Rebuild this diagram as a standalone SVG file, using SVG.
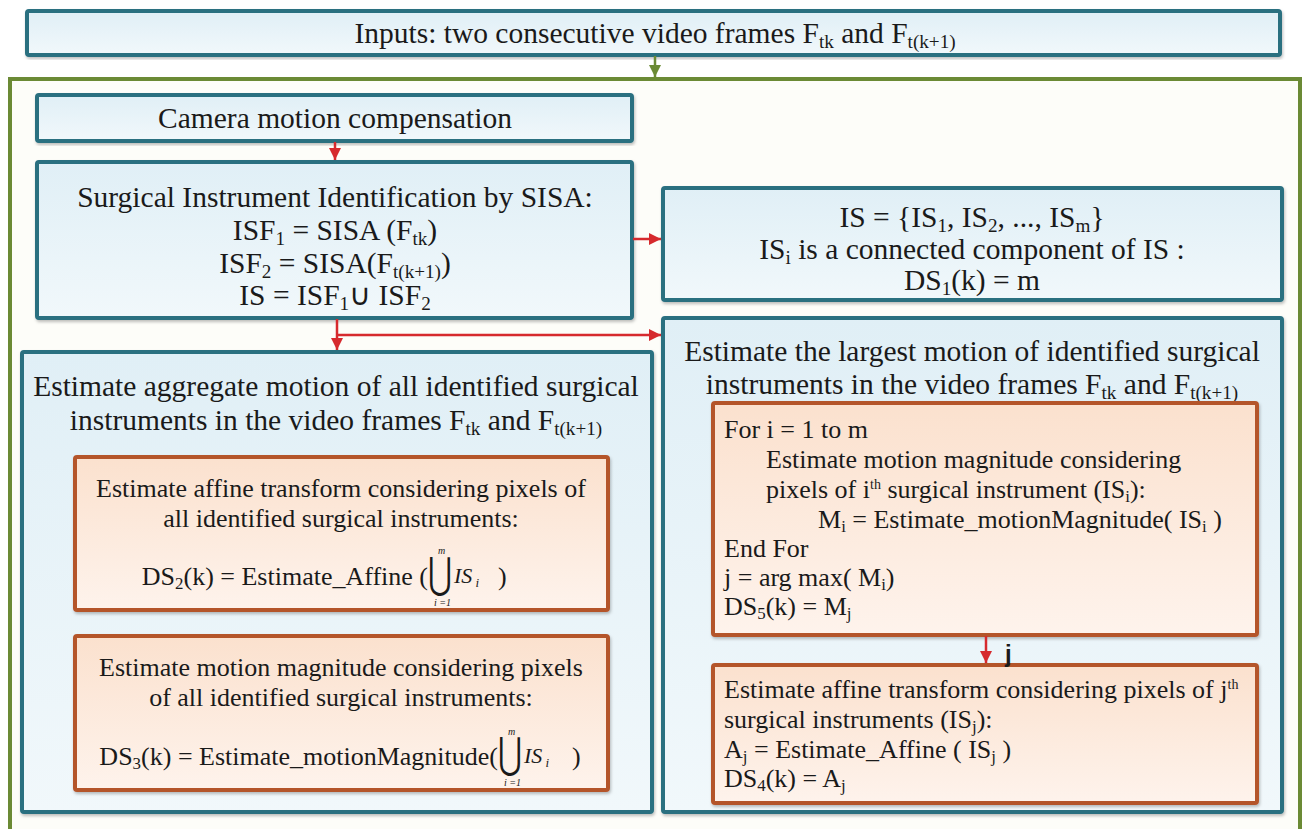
<svg xmlns="http://www.w3.org/2000/svg" width="1307" height="829" viewBox="0 0 1307 829">
<defs>
<linearGradient id="gBlue" x1="0" y1="0" x2="0" y2="1">
<stop offset="0" stop-color="#e0eff6"/><stop offset="1" stop-color="#f1f8fb"/>
</linearGradient>
<linearGradient id="gOrange" x1="0" y1="0" x2="0" y2="1">
<stop offset="0" stop-color="#fbe1ce"/><stop offset="1" stop-color="#fef3ec"/>
</linearGradient>
<marker id="arrRed" viewBox="0 0 10 10" refX="10" refY="5" markerWidth="5" markerHeight="5" orient="auto" markerUnits="strokeWidth">
<path d="M0,0 L10,5 L0,10 z" fill="#d62a2e"/>
</marker>
<marker id="arrGreen" viewBox="0 0 10 10" refX="10" refY="5" markerWidth="5" markerHeight="5" orient="auto" markerUnits="strokeWidth">
<path d="M0,0 L10,5 L0,10 z" fill="#6b8a35"/>
</marker>
<filter id="sh" x="-5%" y="-5%" width="110%" height="115%">
<feDropShadow dx="1" dy="2" stdDeviation="1.5" flood-color="#000" flood-opacity="0.25"/>
</filter>
</defs>
<style>
.blue{fill:url(#gBlue);stroke:#2a6f80;stroke-width:4;filter:url(#sh)}
.orange{fill:url(#gOrange);stroke:#b4552b;stroke-width:4;filter:url(#sh)}
.outer{fill:#fdfdf9;stroke:#6b8a35;stroke-width:4}
text{font-family:"Liberation Serif","Times New Roman",serif;fill:#1a1a1a}
.t{font-size:29.5px}
.o{font-size:26px}
.c{text-anchor:middle}
.e{text-anchor:end}
.s{font-size:65%}
.red{stroke:#d62a2e;stroke-width:2.5;fill:none}
.lbl{font-family:"Liberation Sans",Arial,sans-serif;font-weight:bold;font-size:24px}
.uni{font-family:"DejaVu Serif",serif;font-size:34px}
.lim{font-size:10px;font-style:italic}
.isv{font-size:22px;font-style:italic}
</style>
<rect x="0" y="0" width="1307" height="829" fill="#ffffff"/>

<g id="outer-frame">
<rect class="outer" x="10" y="79" width="1290" height="760"/>
</g>

<g id="inputs">
<rect class="blue" x="27" y="11" width="1253" height="44" rx="2"/>
<text class="t c" x="655" y="43">Inputs: two consecutive video frames F<tspan class="s" dy="5">tk</tspan><tspan dy="-5"> and F</tspan><tspan class="s" dy="5">t(k+1)</tspan></text>
</g>

<g id="camera">
<rect class="blue" x="37" y="95" width="595" height="46" rx="2"/>
<text class="t c" x="335" y="128">Camera motion compensation</text>
</g>

<g id="sisa">
<rect class="blue" x="37" y="162" width="595" height="156" rx="2"/>
<text class="t c" x="335" y="207">Surgical Instrument Identification by SISA:</text>
<text class="t c" x="335" y="240">ISF<tspan class="s" dy="5">1</tspan><tspan dy="-5"> = SISA (F</tspan><tspan class="s" dy="5">tk</tspan><tspan dy="-5">)</tspan></text>
<text class="t c" x="335" y="273">ISF<tspan class="s" dy="5">2</tspan><tspan dy="-5"> = SISA(F</tspan><tspan class="s" dy="5">t(k+1)</tspan><tspan dy="-5">)</tspan></text>
<text class="t c" x="335" y="305">IS = ISF<tspan class="s" dy="5">1</tspan><tspan dy="-5">∪ ISF</tspan><tspan class="s" dy="5">2</tspan></text>
</g>

<g id="is-set">
<rect class="blue" x="663" y="188" width="619" height="112" rx="2"/>
<text class="t c" x="972" y="227">IS = {IS<tspan class="s" dy="5">1</tspan><tspan dy="-5">, IS</tspan><tspan class="s" dy="5">2</tspan><tspan dy="-5">, ..., IS</tspan><tspan class="s" dy="5">m</tspan><tspan dy="-5">}</tspan></text>
<text class="t c" x="972" y="259">IS<tspan class="s" dy="5">i</tspan><tspan dy="-5"> is a connected component of IS :</tspan></text>
<text class="t c" x="972" y="290">DS<tspan class="s" dy="5">1</tspan><tspan dy="-5">(k) = m</tspan></text>
</g>

<g id="aggregate">
<rect class="blue" x="22" y="352" width="630" height="460" rx="2"/>
<text class="t c" x="336" y="396">Estimate aggregate motion of all identified surgical</text>
<text class="t c" x="336" y="430">instruments in the video frames F<tspan class="s" dy="5">tk</tspan><tspan dy="-5"> and F</tspan><tspan class="s" dy="5">t(k+1)</tspan></text>
</g>

<g id="affine-all">
<rect class="orange" x="75" y="457" width="533" height="153" rx="2"/>
<text class="o c" x="341" y="497">Estimate affine transform considering pixels of</text>
<text class="o c" x="341" y="527">all identified surgical instruments:</text>
<text class="o e" x="428" y="585">DS<tspan class="s" dy="4">2</tspan><tspan dy="-4">(k) = Estimate_Affine (</tspan></text>
<text class="uni" transform="translate(428,588) scale(0.85,1.25)">⋃</text>
<text class="lim" x="438" y="554">m</text>
<text class="lim" x="434" y="606">i =1</text>
<text class="isv" x="454" y="583">IS<tspan style="font-size:13px" dy="4"> i</tspan></text>
<text class="o" x="498" y="585">)</text>
</g>

<g id="magnitude-all">
<rect class="orange" x="75" y="636" width="533" height="154" rx="2"/>
<text class="o c" x="341" y="676">Estimate motion magnitude considering pixels</text>
<text class="o c" x="341" y="706">of all identified surgical instruments:</text>
<text class="o e" x="498" y="765">DS<tspan class="s" dy="4">3</tspan><tspan dy="-4">(k) = Estimate_motionMagnitude(</tspan></text>
<text class="uni" transform="translate(498,768) scale(0.85,1.25)">⋃</text>
<text class="lim" x="508" y="735">m</text>
<text class="lim" x="504" y="786">i =1</text>
<text class="isv" x="524" y="763">IS<tspan style="font-size:13px" dy="4"> i</tspan></text>
<text class="o" x="572" y="765">)</text>
</g>

<g id="largest">
<rect class="blue" x="663" y="318" width="619" height="494" rx="2"/>
<text class="t c" x="972" y="361">Estimate the largest motion of identified surgical</text>
<text class="t c" x="972" y="394">instruments in the video frames F<tspan class="s" dy="5">tk</tspan><tspan dy="-5"> and F</tspan><tspan class="s" dy="5">t(k+1)</tspan></text>
</g>

<g id="loop">
<rect class="orange" x="713" y="403" width="544" height="232" rx="2"/>
<text class="o" x="724" y="438">For i = 1 to m</text>
<text class="o" x="766" y="468">Estimate motion magnitude considering</text>
<text class="o" x="766" y="498">pixels of i<tspan style="font-size:14px" dy="-9">th</tspan><tspan dy="9"> surgical instrument (IS</tspan><tspan class="s" dy="4">i</tspan><tspan dy="-4">):</tspan></text>
<text class="o" x="818" y="528">M<tspan class="s" dy="4">i</tspan><tspan dy="-4"> = Estimate_motionMagnitude( IS</tspan><tspan class="s" dy="4">i</tspan><tspan dy="-4"> )</tspan></text>
<text class="o" x="724" y="557">End For</text>
<text class="o" x="724" y="586">j = arg max( M<tspan class="s" dy="4">i</tspan><tspan dy="-4">)</tspan></text>
<text class="o" x="724" y="615">DS<tspan class="s" dy="4">5</tspan><tspan dy="-4">(k) = M</tspan><tspan class="s" dy="4">j</tspan></text>
</g>

<g id="affine-j">
<rect class="orange" x="713" y="665" width="544" height="138" rx="2"/>
<text class="o" x="724" y="698">Estimate affine transform considering pixels of j<tspan style="font-size:14px" dy="-9">th</tspan></text>
<text class="o" x="724" y="728">surgical instruments (IS<tspan class="s" dy="4">j</tspan><tspan dy="-4">):</tspan></text>
<text class="o" x="724" y="758">A<tspan class="s" dy="4">j</tspan><tspan dy="-4"> = Estimate_Affine ( IS</tspan><tspan class="s" dy="4">j</tspan><tspan dy="-4"> )</tspan></text>
<text class="o" x="724" y="787">DS<tspan class="s" dy="4">4</tspan><tspan dy="-4">(k) = A</tspan><tspan class="s" dy="4">j</tspan></text>
</g>

<g id="connectors">
<line x1="655" y1="56" x2="655" y2="77" stroke="#6b8a35" stroke-width="2.5" marker-end="url(#arrGreen)"/>
<line class="red" x1="335" y1="142" x2="335" y2="160" marker-end="url(#arrRed)"/>
<line class="red" x1="633" y1="239" x2="661" y2="239" marker-end="url(#arrRed)"/>
<line class="red" x1="337" y1="319" x2="337" y2="350" marker-end="url(#arrRed)"/>
<line class="red" x1="337" y1="335" x2="661" y2="335" marker-end="url(#arrRed)"/>
<line class="red" x1="986" y1="636" x2="986" y2="663" marker-end="url(#arrRed)"/>
<text class="lbl" x="1005" y="662">j</text>
</g>
</svg>
